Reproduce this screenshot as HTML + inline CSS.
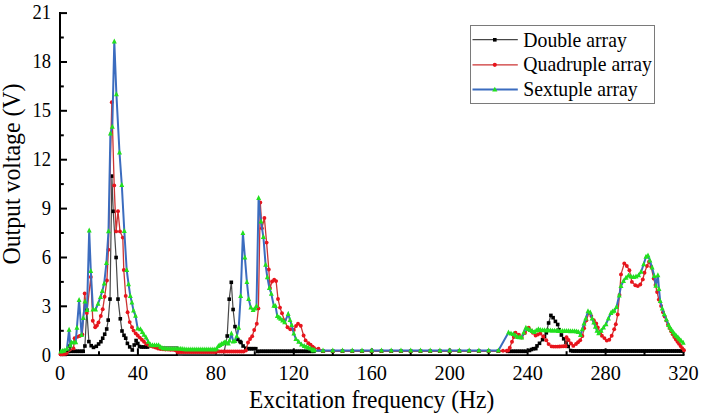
<!DOCTYPE html>
<html><head><meta charset="utf-8"><style>
html,body{margin:0;padding:0;background:#fff;}
svg{display:block;}
text{font-family:"Liberation Serif",serif;fill:#000;}
</style></head><body>
<svg width="701" height="417" viewBox="0 0 701 417">
<rect width="701" height="417" fill="#fff"/>
<g stroke="#000" stroke-width="2" fill="none">
<line x1="60" y1="12" x2="60" y2="356"/>
<line x1="59" y1="355.2" x2="684.5" y2="355.2" stroke-width="1.7"/>
<line x1="60" y1="355.2" x2="67" y2="355.2"/><line x1="60" y1="306.3" x2="67" y2="306.3"/><line x1="60" y1="257.5" x2="67" y2="257.5"/><line x1="60" y1="208.6" x2="67" y2="208.6"/><line x1="60" y1="159.7" x2="67" y2="159.7"/><line x1="60" y1="110.8" x2="67" y2="110.8"/><line x1="60" y1="62.0" x2="67" y2="62.0"/><line x1="60" y1="13.1" x2="67" y2="13.1"/><line x1="60" y1="330.8" x2="63.8" y2="330.8"/><line x1="60" y1="281.9" x2="63.8" y2="281.9"/><line x1="60" y1="233.0" x2="63.8" y2="233.0"/><line x1="60" y1="184.1" x2="63.8" y2="184.1"/><line x1="60" y1="135.3" x2="63.8" y2="135.3"/><line x1="60" y1="86.4" x2="63.8" y2="86.4"/><line x1="60" y1="37.5" x2="63.8" y2="37.5"/><line x1="60.0" y1="355" x2="60.0" y2="348.3"/><line x1="137.9" y1="355" x2="137.9" y2="348.3"/><line x1="215.9" y1="355" x2="215.9" y2="348.3"/><line x1="293.8" y1="355" x2="293.8" y2="348.3"/><line x1="371.8" y1="355" x2="371.8" y2="348.3"/><line x1="449.7" y1="355" x2="449.7" y2="348.3"/><line x1="527.6" y1="355" x2="527.6" y2="348.3"/><line x1="605.6" y1="355" x2="605.6" y2="348.3"/><line x1="683.5" y1="355" x2="683.5" y2="348.3"/><line x1="99.0" y1="355" x2="99.0" y2="351.2"/><line x1="176.9" y1="355" x2="176.9" y2="351.2"/><line x1="254.8" y1="355" x2="254.8" y2="351.2"/><line x1="332.8" y1="355" x2="332.8" y2="351.2"/><line x1="410.7" y1="355" x2="410.7" y2="351.2"/><line x1="488.7" y1="355" x2="488.7" y2="351.2"/><line x1="566.6" y1="355" x2="566.6" y2="351.2"/><line x1="644.5" y1="355" x2="644.5" y2="351.2"/>
</g>
<g id="black">
<polyline points="60.5,354.5 62.5,354.0 64.5,353.5 66.5,352.5 68.5,351.5 69.9,346.0 71.5,351.3 73.5,351.3 75.5,351.3 77.5,351.3 79.5,351.3 81.5,351.3 83.2,351.3 84.9,346.0 86.8,310.0 88.9,341.6 91.2,345.7 93.5,347.4 96.3,346.3 98.6,344.0 100.9,341.7 102.7,338.2 104.7,334.2 106.7,329.0 108.2,320.1 110.0,299.1 111.9,176.1 113.2,211.3 116.1,257.5 118.0,299.1 120.3,318.8 122.0,331.0 124.0,335.3 125.7,338.2 127.4,343.4 129.7,346.9 132.3,350.0 134.2,345.0 136.1,340.5 137.8,343.5 139.5,346.5 141.5,347.0 143.5,347.0 145.5,347.0 147.5,347.0 149.5,346.9 151.5,346.9 153.5,346.9 155.5,346.9 157.5,346.9 159.5,346.9 161.5,346.9 163.5,346.9 165.5,346.9 167.5,346.9 169.5,346.9 171.5,346.9 173.5,346.9 175.5,346.9 177.5,346.9 178.5,355.2 181.5,355.2 183.5,355.0 185.5,355.0 187.5,355.0 189.5,355.0 191.5,355.0 193.5,355.0 195.5,355.0 197.5,355.0 199.5,355.0 201.5,355.0 203.5,355.0 205.5,355.0 207.5,355.0 209.5,355.0 211.5,355.0 213.5,355.0 215.5,355.0 217.5,355.0 219.5,355.0 221.5,355.0 223.5,355.2 227.2,336.0 229.2,299.2 231.3,282.3 233.1,309.5 235.0,326.6 237.8,339.5 240.0,341.5 241.0,342.5 243.1,346.0 245.8,348.2 247.8,348.7 249.8,348.7 251.8,348.7 253.8,348.7 255.8,348.7 257.8,351.5 259.8,351.3 261.8,351.3 263.8,351.3 265.8,351.3 267.8,351.3 269.8,351.3 271.8,351.3 273.8,351.3 275.8,351.3 277.8,351.3 279.8,351.3 281.8,351.3 283.8,351.3 285.8,351.3 287.8,351.3 289.8,351.3 291.8,351.3 293.8,351.3 295.8,351.3 297.8,351.3 299.8,351.3 301.8,351.3 303.8,351.3 305.8,351.3 307.8,351.3 309.8,351.3 311.8,351.3 313.8,351.3 313.3,351.2 323.0,351.2 332.8,351.2 342.5,351.2 352.3,351.2 362.0,351.2 371.8,351.2 381.5,351.2 391.2,351.2 401.0,351.2 410.7,351.2 420.5,351.2 430.2,351.2 439.9,351.2 449.7,351.2 459.4,351.2 469.2,351.2 478.9,351.2 488.7,351.2 498.4,351.2 507.7,351.3 509.7,351.3 511.7,351.3 513.7,351.3 515.7,351.3 517.7,351.3 519.7,351.3 521.7,351.3 523.7,351.3 525.7,351.3 529.5,350.5 531.5,349.5 533.5,348.7 535.8,348.6 537.0,345.9 539.5,343.3 542.6,339.6 544.5,336.5 546.3,332.8 548.6,323.0 550.9,315.4 553.1,317.7 555.4,321.4 557.7,324.5 559.2,329.7 561.4,335.0 563.7,338.8 566.0,342.6 568.2,346.4 570.7,350.6 572.7,351.0 574.7,351.0 576.7,351.0 578.7,351.0 580.7,351.0 582.7,351.0 584.7,351.0 586.7,351.0 588.7,351.0 590.7,351.0 592.7,351.0 594.7,351.0 596.7,351.0 598.7,351.0 600.7,351.0 602.7,351.0 604.7,351.0 606.7,351.0 608.7,351.0 610.7,351.0 612.7,351.0 614.7,351.0 616.7,351.0 618.7,351.0 620.7,351.0 622.7,351.0 624.7,351.0 626.7,351.0 628.7,351.0 630.7,351.0 632.7,351.0 634.7,351.0 636.7,351.0 638.7,351.0 640.7,351.0 642.7,351.0 644.7,351.0 646.7,351.0 648.7,351.0 650.7,351.0 652.7,351.0 654.7,351.0 656.7,351.0 658.7,351.0 660.7,351.0 662.7,351.0 664.7,351.0 666.7,351.0 668.7,351.0 670.7,351.0 672.7,351.0 674.7,351.0 676.7,351.0 678.7,351.0 680.7,351.0 682.7,351.0" fill="none" stroke="#484848" stroke-width="1.2"/>
<g fill="#000"><rect x="60.7" y="352.2" width="3.6" height="3.6"/><rect x="62.7" y="351.7" width="3.6" height="3.6"/><rect x="64.7" y="350.7" width="3.6" height="3.6"/><rect x="66.7" y="349.7" width="3.6" height="3.6"/><rect x="68.1" y="344.2" width="3.6" height="3.6"/><rect x="69.7" y="349.5" width="3.6" height="3.6"/><rect x="71.7" y="349.5" width="3.6" height="3.6"/><rect x="73.7" y="349.5" width="3.6" height="3.6"/><rect x="75.7" y="349.5" width="3.6" height="3.6"/><rect x="77.7" y="349.5" width="3.6" height="3.6"/><rect x="79.7" y="349.5" width="3.6" height="3.6"/><rect x="81.4" y="349.5" width="3.6" height="3.6"/><rect x="83.1" y="344.2" width="3.6" height="3.6"/><rect x="85.0" y="308.2" width="3.6" height="3.6"/><rect x="87.1" y="339.8" width="3.6" height="3.6"/><rect x="89.4" y="343.9" width="3.6" height="3.6"/><rect x="91.7" y="345.6" width="3.6" height="3.6"/><rect x="94.5" y="344.5" width="3.6" height="3.6"/><rect x="96.8" y="342.2" width="3.6" height="3.6"/><rect x="99.1" y="339.9" width="3.6" height="3.6"/><rect x="100.9" y="336.4" width="3.6" height="3.6"/><rect x="102.9" y="332.4" width="3.6" height="3.6"/><rect x="104.9" y="327.2" width="3.6" height="3.6"/><rect x="106.4" y="318.3" width="3.6" height="3.6"/><rect x="108.2" y="297.3" width="3.6" height="3.6"/><rect x="110.1" y="174.3" width="3.6" height="3.6"/><rect x="111.4" y="209.5" width="3.6" height="3.6"/><rect x="114.3" y="255.7" width="3.6" height="3.6"/><rect x="116.2" y="297.3" width="3.6" height="3.6"/><rect x="118.5" y="317.0" width="3.6" height="3.6"/><rect x="120.2" y="329.2" width="3.6" height="3.6"/><rect x="122.2" y="333.5" width="3.6" height="3.6"/><rect x="123.9" y="336.4" width="3.6" height="3.6"/><rect x="125.6" y="341.6" width="3.6" height="3.6"/><rect x="127.9" y="345.1" width="3.6" height="3.6"/><rect x="130.5" y="348.2" width="3.6" height="3.6"/><rect x="132.4" y="343.2" width="3.6" height="3.6"/><rect x="134.3" y="338.7" width="3.6" height="3.6"/><rect x="136.0" y="341.7" width="3.6" height="3.6"/><rect x="137.7" y="344.7" width="3.6" height="3.6"/><rect x="139.7" y="345.2" width="3.6" height="3.6"/><rect x="141.7" y="345.2" width="3.6" height="3.6"/><rect x="143.7" y="345.2" width="3.6" height="3.6"/><rect x="145.7" y="345.2" width="3.6" height="3.6"/><rect x="225.4" y="334.2" width="3.6" height="3.6"/><rect x="227.4" y="297.4" width="3.6" height="3.6"/><rect x="229.5" y="280.5" width="3.6" height="3.6"/><rect x="231.3" y="307.7" width="3.6" height="3.6"/><rect x="233.2" y="324.8" width="3.6" height="3.6"/><rect x="236.0" y="337.7" width="3.6" height="3.6"/><rect x="238.2" y="339.7" width="3.6" height="3.6"/><rect x="239.2" y="340.7" width="3.6" height="3.6"/><rect x="241.3" y="344.2" width="3.6" height="3.6"/><rect x="244.0" y="346.4" width="3.6" height="3.6"/><rect x="246.0" y="346.9" width="3.6" height="3.6"/><rect x="248.0" y="346.9" width="3.6" height="3.6"/><rect x="250.0" y="346.9" width="3.6" height="3.6"/><rect x="252.0" y="346.9" width="3.6" height="3.6"/><rect x="254.0" y="346.9" width="3.6" height="3.6"/><rect x="256.0" y="349.7" width="3.6" height="3.6"/><rect x="258.0" y="349.5" width="3.6" height="3.6"/><rect x="260.0" y="349.5" width="3.6" height="3.6"/><rect x="262.0" y="349.5" width="3.6" height="3.6"/><rect x="264.0" y="349.5" width="3.6" height="3.6"/><rect x="266.0" y="349.5" width="3.6" height="3.6"/><rect x="268.0" y="349.5" width="3.6" height="3.6"/><rect x="270.0" y="349.5" width="3.6" height="3.6"/><rect x="272.0" y="349.5" width="3.6" height="3.6"/><rect x="274.0" y="349.5" width="3.6" height="3.6"/><rect x="276.0" y="349.5" width="3.6" height="3.6"/><rect x="278.0" y="349.5" width="3.6" height="3.6"/><rect x="280.0" y="349.5" width="3.6" height="3.6"/><rect x="282.0" y="349.5" width="3.6" height="3.6"/><rect x="284.0" y="349.5" width="3.6" height="3.6"/><rect x="286.0" y="349.5" width="3.6" height="3.6"/><rect x="288.0" y="349.5" width="3.6" height="3.6"/><rect x="290.0" y="349.5" width="3.6" height="3.6"/><rect x="292.0" y="349.5" width="3.6" height="3.6"/><rect x="294.0" y="349.5" width="3.6" height="3.6"/><rect x="296.0" y="349.5" width="3.6" height="3.6"/><rect x="298.0" y="349.5" width="3.6" height="3.6"/><rect x="300.0" y="349.5" width="3.6" height="3.6"/><rect x="302.0" y="349.5" width="3.6" height="3.6"/><rect x="304.0" y="349.5" width="3.6" height="3.6"/><rect x="306.0" y="349.5" width="3.6" height="3.6"/><rect x="308.0" y="349.5" width="3.6" height="3.6"/><rect x="310.0" y="349.5" width="3.6" height="3.6"/><rect x="312.0" y="349.5" width="3.6" height="3.6"/><rect x="311.5" y="349.4" width="3.6" height="3.6"/><rect x="321.2" y="349.4" width="3.6" height="3.6"/><rect x="331.0" y="349.4" width="3.6" height="3.6"/><rect x="340.7" y="349.4" width="3.6" height="3.6"/><rect x="350.5" y="349.4" width="3.6" height="3.6"/><rect x="360.2" y="349.4" width="3.6" height="3.6"/><rect x="369.9" y="349.4" width="3.6" height="3.6"/><rect x="379.7" y="349.4" width="3.6" height="3.6"/><rect x="389.4" y="349.4" width="3.6" height="3.6"/><rect x="399.2" y="349.4" width="3.6" height="3.6"/><rect x="408.9" y="349.4" width="3.6" height="3.6"/><rect x="418.7" y="349.4" width="3.6" height="3.6"/><rect x="428.4" y="349.4" width="3.6" height="3.6"/><rect x="438.1" y="349.4" width="3.6" height="3.6"/><rect x="447.9" y="349.4" width="3.6" height="3.6"/><rect x="457.6" y="349.4" width="3.6" height="3.6"/><rect x="467.4" y="349.4" width="3.6" height="3.6"/><rect x="477.1" y="349.4" width="3.6" height="3.6"/><rect x="486.9" y="349.4" width="3.6" height="3.6"/><rect x="496.6" y="349.4" width="3.6" height="3.6"/><rect x="505.9" y="349.5" width="3.6" height="3.6"/><rect x="507.9" y="349.5" width="3.6" height="3.6"/><rect x="509.9" y="349.5" width="3.6" height="3.6"/><rect x="511.9" y="349.5" width="3.6" height="3.6"/><rect x="513.9" y="349.5" width="3.6" height="3.6"/><rect x="515.9" y="349.5" width="3.6" height="3.6"/><rect x="517.9" y="349.5" width="3.6" height="3.6"/><rect x="519.9" y="349.5" width="3.6" height="3.6"/><rect x="521.9" y="349.5" width="3.6" height="3.6"/><rect x="523.9" y="349.5" width="3.6" height="3.6"/><rect x="527.7" y="348.7" width="3.6" height="3.6"/><rect x="529.7" y="347.7" width="3.6" height="3.6"/><rect x="531.7" y="346.9" width="3.6" height="3.6"/><rect x="534.0" y="346.8" width="3.6" height="3.6"/><rect x="535.2" y="344.1" width="3.6" height="3.6"/><rect x="537.7" y="341.5" width="3.6" height="3.6"/><rect x="540.8" y="337.8" width="3.6" height="3.6"/><rect x="542.7" y="334.7" width="3.6" height="3.6"/><rect x="544.5" y="331.0" width="3.6" height="3.6"/><rect x="546.8" y="321.2" width="3.6" height="3.6"/><rect x="549.1" y="313.6" width="3.6" height="3.6"/><rect x="551.3" y="315.9" width="3.6" height="3.6"/><rect x="553.6" y="319.6" width="3.6" height="3.6"/><rect x="555.9" y="322.7" width="3.6" height="3.6"/><rect x="557.4" y="327.9" width="3.6" height="3.6"/><rect x="559.6" y="333.2" width="3.6" height="3.6"/><rect x="561.9" y="337.0" width="3.6" height="3.6"/><rect x="564.2" y="340.8" width="3.6" height="3.6"/><rect x="566.4" y="344.6" width="3.6" height="3.6"/><rect x="568.9" y="348.8" width="3.6" height="3.6"/><rect x="570.9" y="349.2" width="3.6" height="3.6"/><rect x="572.9" y="349.2" width="3.6" height="3.6"/><rect x="574.9" y="349.2" width="3.6" height="3.6"/><rect x="576.9" y="349.2" width="3.6" height="3.6"/><rect x="578.9" y="349.2" width="3.6" height="3.6"/><rect x="580.9" y="349.2" width="3.6" height="3.6"/><rect x="582.9" y="349.2" width="3.6" height="3.6"/><rect x="584.9" y="349.2" width="3.6" height="3.6"/><rect x="586.9" y="349.2" width="3.6" height="3.6"/><rect x="588.9" y="349.2" width="3.6" height="3.6"/><rect x="590.9" y="349.2" width="3.6" height="3.6"/><rect x="592.9" y="349.2" width="3.6" height="3.6"/><rect x="594.9" y="349.2" width="3.6" height="3.6"/><rect x="596.9" y="349.2" width="3.6" height="3.6"/><rect x="598.9" y="349.2" width="3.6" height="3.6"/><rect x="600.9" y="349.2" width="3.6" height="3.6"/><rect x="602.9" y="349.2" width="3.6" height="3.6"/><rect x="604.9" y="349.2" width="3.6" height="3.6"/><rect x="606.9" y="349.2" width="3.6" height="3.6"/><rect x="608.9" y="349.2" width="3.6" height="3.6"/><rect x="610.9" y="349.2" width="3.6" height="3.6"/><rect x="612.9" y="349.2" width="3.6" height="3.6"/><rect x="614.9" y="349.2" width="3.6" height="3.6"/><rect x="616.9" y="349.2" width="3.6" height="3.6"/><rect x="618.9" y="349.2" width="3.6" height="3.6"/><rect x="620.9" y="349.2" width="3.6" height="3.6"/><rect x="622.9" y="349.2" width="3.6" height="3.6"/><rect x="624.9" y="349.2" width="3.6" height="3.6"/><rect x="626.9" y="349.2" width="3.6" height="3.6"/><rect x="628.9" y="349.2" width="3.6" height="3.6"/><rect x="630.9" y="349.2" width="3.6" height="3.6"/><rect x="632.9" y="349.2" width="3.6" height="3.6"/><rect x="634.9" y="349.2" width="3.6" height="3.6"/><rect x="636.9" y="349.2" width="3.6" height="3.6"/><rect x="638.9" y="349.2" width="3.6" height="3.6"/><rect x="640.9" y="349.2" width="3.6" height="3.6"/><rect x="642.9" y="349.2" width="3.6" height="3.6"/><rect x="644.9" y="349.2" width="3.6" height="3.6"/><rect x="646.9" y="349.2" width="3.6" height="3.6"/><rect x="648.9" y="349.2" width="3.6" height="3.6"/><rect x="650.9" y="349.2" width="3.6" height="3.6"/><rect x="652.9" y="349.2" width="3.6" height="3.6"/><rect x="654.9" y="349.2" width="3.6" height="3.6"/><rect x="656.9" y="349.2" width="3.6" height="3.6"/><rect x="658.9" y="349.2" width="3.6" height="3.6"/><rect x="660.9" y="349.2" width="3.6" height="3.6"/><rect x="662.9" y="349.2" width="3.6" height="3.6"/><rect x="664.9" y="349.2" width="3.6" height="3.6"/><rect x="666.9" y="349.2" width="3.6" height="3.6"/><rect x="668.9" y="349.2" width="3.6" height="3.6"/><rect x="670.9" y="349.2" width="3.6" height="3.6"/><rect x="672.9" y="349.2" width="3.6" height="3.6"/><rect x="674.9" y="349.2" width="3.6" height="3.6"/><rect x="676.9" y="349.2" width="3.6" height="3.6"/><rect x="678.9" y="349.2" width="3.6" height="3.6"/><rect x="680.9" y="349.2" width="3.6" height="3.6"/></g>
</g>
<g id="red">
<polyline points="60.5,354.3 62.5,354.2 64.5,354.0 66.3,353.6 73.5,348.4 74.6,338.2 77.1,336.9 79.7,336.0 82.3,334.5 84.7,293.5 86.8,313.0 90.8,277.0 92.8,320.8 95.2,327.3 96.9,325.5 98.5,322.5 100.8,316.0 102.7,309.3 104.6,296.8 106.9,280.5 108.4,249.8 111.8,102.2 114.2,185.4 116.1,231.4 118.0,211.3 120.0,231.4 122.8,237.6 123.8,270.0 125.7,295.9 127.6,312.2 129.7,322.1 132.0,327.3 133.6,330.6 135.7,333.4 137.7,335.5 139.8,337.6 141.9,339.7 144.0,341.8 146.1,343.9 148.9,345.3 151.0,346.0 153.1,346.7 155.5,347.5 158.0,348.5 160.5,349.0 163.0,349.3 165.5,349.5 168.0,349.6 170.5,349.7 173.0,349.8 175.5,350.3 177.5,352.0 179.5,352.0 181.5,352.0 183.5,352.0 185.5,352.0 187.5,352.0 189.5,352.0 191.5,352.0 193.5,352.0 195.5,352.0 197.5,352.0 199.5,352.0 201.5,352.0 203.5,352.0 205.5,352.0 207.5,352.0 209.5,352.0 211.5,352.0 213.5,352.0 215.5,352.0 217.5,351.5 219.5,351.5 221.5,351.5 223.5,351.5 225.5,351.5 227.5,351.5 229.5,351.5 231.5,351.5 233.5,351.5 235.5,351.5 237.5,351.5 239.5,351.5 241.5,351.5 243.5,351.5 245.9,350.5 248.0,342.5 250.1,339.0 252.2,336.2 254.2,330.0 256.8,323.7 258.4,308.4 260.3,202.5 261.9,228.2 264.4,218.0 266.6,242.6 268.8,269.5 270.0,288.1 272.1,281.5 274.2,279.7 276.1,281.1 278.0,299.0 280.0,307.6 282.0,313.2 284.5,320.5 287.5,327.2 290.3,329.2 293.8,329.9 296.0,326.0 298.0,323.7 300.8,325.8 303.6,335.5 305.6,340.4 308.4,343.2 310.5,344.6 312.6,346.7 314.0,348.0 318.5,348.8 323.0,351.0 332.8,351.0 342.5,351.0 352.3,351.0 362.0,351.0 371.8,351.0 381.5,351.0 391.2,351.0 401.0,351.0 410.7,351.0 420.5,351.0 430.2,351.0 439.9,351.0 449.7,351.0 459.4,351.0 469.2,351.0 478.9,351.0 488.7,351.0 498.4,351.0 503.0,350.8 506.8,350.8 508.1,350.4 509.8,347.8 512.0,341.8 513.8,337.0 515.5,332.7 518.9,334.8 521.7,337.6 525.0,333.0 528.7,327.8 530.8,330.5 532.9,332.7 535.6,335.5 537.8,334.5 540.3,333.5 543.3,336.5 546.3,340.3 548.6,344.1 551.6,346.4 553.6,346.6 555.6,346.6 557.6,346.6 559.6,346.5 561.6,346.4 563.6,346.3 565.6,346.3 566.5,337.3 568.5,340.0 571.0,343.5 573.3,345.9 576.0,344.0 578.0,342.2 580.2,340.3 582.4,336.0 584.1,328.3 586.4,320.2 588.9,312.8 591.3,316.1 593.8,320.2 596.2,323.4 597.8,327.5 600.3,332.4 601.9,335.7 604.4,338.1 606.8,340.6 609.3,339.8 611.7,335.7 614.2,329.2 615.8,324.3 617.7,314.5 619.5,295.0 621.0,274.4 624.3,263.4 626.8,266.0 629.4,270.2 631.9,281.9 635.3,285.3 637.8,286.1 640.3,284.5 642.8,279.4 644.5,272.7 647.0,266.0 649.0,261.8 651.2,266.8 653.7,278.6 655.5,285.0 657.1,292.0 658.8,299.6 661.1,305.9 663.0,312.2 664.7,316.5 666.4,320.6 668.0,324.5 669.5,328.0 671.1,331.2 672.7,334.3 674.3,337.0 675.9,339.6 677.5,341.8 679.0,343.8 680.6,346.0 682.2,348.1 684.0,350.2" fill="none" stroke="#cc3333" stroke-width="1.3"/>
<g fill="#e8141c"><circle cx="60.5" cy="354.3" r="1.95"/><circle cx="62.5" cy="354.2" r="1.95"/><circle cx="64.5" cy="354.0" r="1.95"/><circle cx="66.3" cy="353.6" r="1.95"/><circle cx="73.5" cy="348.4" r="1.95"/><circle cx="74.6" cy="338.2" r="1.95"/><circle cx="77.1" cy="336.9" r="1.95"/><circle cx="79.7" cy="336.0" r="1.95"/><circle cx="82.3" cy="334.5" r="1.95"/><circle cx="84.7" cy="293.5" r="1.95"/><circle cx="86.8" cy="313.0" r="1.95"/><circle cx="90.8" cy="277.0" r="1.95"/><circle cx="92.8" cy="320.8" r="1.95"/><circle cx="95.2" cy="327.3" r="1.95"/><circle cx="96.9" cy="325.5" r="1.95"/><circle cx="98.5" cy="322.5" r="1.95"/><circle cx="100.8" cy="316.0" r="1.95"/><circle cx="102.7" cy="309.3" r="1.95"/><circle cx="104.6" cy="296.8" r="1.95"/><circle cx="106.9" cy="280.5" r="1.95"/><circle cx="108.4" cy="249.8" r="1.95"/><circle cx="111.8" cy="102.2" r="1.95"/><circle cx="114.2" cy="185.4" r="1.95"/><circle cx="116.1" cy="231.4" r="1.95"/><circle cx="118.0" cy="211.3" r="1.95"/><circle cx="120.0" cy="231.4" r="1.95"/><circle cx="122.8" cy="237.6" r="1.95"/><circle cx="123.8" cy="270.0" r="1.95"/><circle cx="125.7" cy="295.9" r="1.95"/><circle cx="127.6" cy="312.2" r="1.95"/><circle cx="129.7" cy="322.1" r="1.95"/><circle cx="132.0" cy="327.3" r="1.95"/><circle cx="133.6" cy="330.6" r="1.95"/><circle cx="135.7" cy="333.4" r="1.95"/><circle cx="137.7" cy="335.5" r="1.95"/><circle cx="139.8" cy="337.6" r="1.95"/><circle cx="141.9" cy="339.7" r="1.95"/><circle cx="144.0" cy="341.8" r="1.95"/><circle cx="146.1" cy="343.9" r="1.95"/><circle cx="148.9" cy="345.3" r="1.95"/><circle cx="151.0" cy="346.0" r="1.95"/><circle cx="153.1" cy="346.7" r="1.95"/><circle cx="155.5" cy="347.5" r="1.95"/><circle cx="158.0" cy="348.5" r="1.95"/><circle cx="160.5" cy="349.0" r="1.95"/><circle cx="163.0" cy="349.3" r="1.95"/><circle cx="165.5" cy="349.5" r="1.95"/><circle cx="168.0" cy="349.6" r="1.95"/><circle cx="170.5" cy="349.7" r="1.95"/><circle cx="173.0" cy="349.8" r="1.95"/><circle cx="175.5" cy="350.3" r="1.95"/><circle cx="177.5" cy="352.0" r="1.95"/><circle cx="179.5" cy="352.0" r="1.95"/><circle cx="181.5" cy="352.0" r="1.95"/><circle cx="183.5" cy="352.0" r="1.95"/><circle cx="185.5" cy="352.0" r="1.95"/><circle cx="187.5" cy="352.0" r="1.95"/><circle cx="189.5" cy="352.0" r="1.95"/><circle cx="191.5" cy="352.0" r="1.95"/><circle cx="193.5" cy="352.0" r="1.95"/><circle cx="195.5" cy="352.0" r="1.95"/><circle cx="197.5" cy="352.0" r="1.95"/><circle cx="199.5" cy="352.0" r="1.95"/><circle cx="201.5" cy="352.0" r="1.95"/><circle cx="203.5" cy="352.0" r="1.95"/><circle cx="205.5" cy="352.0" r="1.95"/><circle cx="207.5" cy="352.0" r="1.95"/><circle cx="209.5" cy="352.0" r="1.95"/><circle cx="211.5" cy="352.0" r="1.95"/><circle cx="213.5" cy="352.0" r="1.95"/><circle cx="215.5" cy="352.0" r="1.95"/><circle cx="217.5" cy="351.5" r="1.95"/><circle cx="219.5" cy="351.5" r="1.95"/><circle cx="221.5" cy="351.5" r="1.95"/><circle cx="223.5" cy="351.5" r="1.95"/><circle cx="225.5" cy="351.5" r="1.95"/><circle cx="227.5" cy="351.5" r="1.95"/><circle cx="229.5" cy="351.5" r="1.95"/><circle cx="231.5" cy="351.5" r="1.95"/><circle cx="233.5" cy="351.5" r="1.95"/><circle cx="235.5" cy="351.5" r="1.95"/><circle cx="237.5" cy="351.5" r="1.95"/><circle cx="239.5" cy="351.5" r="1.95"/><circle cx="241.5" cy="351.5" r="1.95"/><circle cx="243.5" cy="351.5" r="1.95"/><circle cx="245.9" cy="350.5" r="1.95"/><circle cx="248.0" cy="342.5" r="1.95"/><circle cx="250.1" cy="339.0" r="1.95"/><circle cx="252.2" cy="336.2" r="1.95"/><circle cx="254.2" cy="330.0" r="1.95"/><circle cx="256.8" cy="323.7" r="1.95"/><circle cx="258.4" cy="308.4" r="1.95"/><circle cx="260.3" cy="202.5" r="1.95"/><circle cx="261.9" cy="228.2" r="1.95"/><circle cx="264.4" cy="218.0" r="1.95"/><circle cx="266.6" cy="242.6" r="1.95"/><circle cx="268.8" cy="269.5" r="1.95"/><circle cx="270.0" cy="288.1" r="1.95"/><circle cx="272.1" cy="281.5" r="1.95"/><circle cx="274.2" cy="279.7" r="1.95"/><circle cx="276.1" cy="281.1" r="1.95"/><circle cx="278.0" cy="299.0" r="1.95"/><circle cx="280.0" cy="307.6" r="1.95"/><circle cx="282.0" cy="313.2" r="1.95"/><circle cx="284.5" cy="320.5" r="1.95"/><circle cx="287.5" cy="327.2" r="1.95"/><circle cx="290.3" cy="329.2" r="1.95"/><circle cx="293.8" cy="329.9" r="1.95"/><circle cx="296.0" cy="326.0" r="1.95"/><circle cx="298.0" cy="323.7" r="1.95"/><circle cx="300.8" cy="325.8" r="1.95"/><circle cx="303.6" cy="335.5" r="1.95"/><circle cx="305.6" cy="340.4" r="1.95"/><circle cx="308.4" cy="343.2" r="1.95"/><circle cx="310.5" cy="344.6" r="1.95"/><circle cx="312.6" cy="346.7" r="1.95"/><circle cx="314.0" cy="348.0" r="1.95"/><circle cx="318.5" cy="348.8" r="1.95"/><circle cx="323.0" cy="351.0" r="1.95"/><circle cx="332.8" cy="351.0" r="1.95"/><circle cx="342.5" cy="351.0" r="1.95"/><circle cx="352.3" cy="351.0" r="1.95"/><circle cx="362.0" cy="351.0" r="1.95"/><circle cx="371.8" cy="351.0" r="1.95"/><circle cx="381.5" cy="351.0" r="1.95"/><circle cx="391.2" cy="351.0" r="1.95"/><circle cx="401.0" cy="351.0" r="1.95"/><circle cx="410.7" cy="351.0" r="1.95"/><circle cx="420.5" cy="351.0" r="1.95"/><circle cx="430.2" cy="351.0" r="1.95"/><circle cx="439.9" cy="351.0" r="1.95"/><circle cx="449.7" cy="351.0" r="1.95"/><circle cx="459.4" cy="351.0" r="1.95"/><circle cx="469.2" cy="351.0" r="1.95"/><circle cx="478.9" cy="351.0" r="1.95"/><circle cx="488.7" cy="351.0" r="1.95"/><circle cx="498.4" cy="351.0" r="1.95"/><circle cx="503.0" cy="350.8" r="1.95"/><circle cx="506.8" cy="350.8" r="1.95"/><circle cx="508.1" cy="350.4" r="1.95"/><circle cx="509.8" cy="347.8" r="1.95"/><circle cx="512.0" cy="341.8" r="1.95"/><circle cx="513.8" cy="337.0" r="1.95"/><circle cx="515.5" cy="332.7" r="1.95"/><circle cx="518.9" cy="334.8" r="1.95"/><circle cx="521.7" cy="337.6" r="1.95"/><circle cx="525.0" cy="333.0" r="1.95"/><circle cx="528.7" cy="327.8" r="1.95"/><circle cx="530.8" cy="330.5" r="1.95"/><circle cx="532.9" cy="332.7" r="1.95"/><circle cx="535.6" cy="335.5" r="1.95"/><circle cx="537.8" cy="334.5" r="1.95"/><circle cx="540.3" cy="333.5" r="1.95"/><circle cx="543.3" cy="336.5" r="1.95"/><circle cx="546.3" cy="340.3" r="1.95"/><circle cx="548.6" cy="344.1" r="1.95"/><circle cx="551.6" cy="346.4" r="1.95"/><circle cx="553.6" cy="346.6" r="1.95"/><circle cx="555.6" cy="346.6" r="1.95"/><circle cx="557.6" cy="346.6" r="1.95"/><circle cx="559.6" cy="346.5" r="1.95"/><circle cx="561.6" cy="346.4" r="1.95"/><circle cx="563.6" cy="346.3" r="1.95"/><circle cx="565.6" cy="346.3" r="1.95"/><circle cx="566.5" cy="337.3" r="1.95"/><circle cx="568.5" cy="340.0" r="1.95"/><circle cx="571.0" cy="343.5" r="1.95"/><circle cx="573.3" cy="345.9" r="1.95"/><circle cx="576.0" cy="344.0" r="1.95"/><circle cx="578.0" cy="342.2" r="1.95"/><circle cx="580.2" cy="340.3" r="1.95"/><circle cx="582.4" cy="336.0" r="1.95"/><circle cx="584.1" cy="328.3" r="1.95"/><circle cx="586.4" cy="320.2" r="1.95"/><circle cx="588.9" cy="312.8" r="1.95"/><circle cx="591.3" cy="316.1" r="1.95"/><circle cx="593.8" cy="320.2" r="1.95"/><circle cx="596.2" cy="323.4" r="1.95"/><circle cx="597.8" cy="327.5" r="1.95"/><circle cx="600.3" cy="332.4" r="1.95"/><circle cx="601.9" cy="335.7" r="1.95"/><circle cx="604.4" cy="338.1" r="1.95"/><circle cx="606.8" cy="340.6" r="1.95"/><circle cx="609.3" cy="339.8" r="1.95"/><circle cx="611.7" cy="335.7" r="1.95"/><circle cx="614.2" cy="329.2" r="1.95"/><circle cx="615.8" cy="324.3" r="1.95"/><circle cx="617.7" cy="314.5" r="1.95"/><circle cx="619.5" cy="295.0" r="1.95"/><circle cx="621.0" cy="274.4" r="1.95"/><circle cx="624.3" cy="263.4" r="1.95"/><circle cx="626.8" cy="266.0" r="1.95"/><circle cx="629.4" cy="270.2" r="1.95"/><circle cx="631.9" cy="281.9" r="1.95"/><circle cx="635.3" cy="285.3" r="1.95"/><circle cx="637.8" cy="286.1" r="1.95"/><circle cx="640.3" cy="284.5" r="1.95"/><circle cx="642.8" cy="279.4" r="1.95"/><circle cx="644.5" cy="272.7" r="1.95"/><circle cx="647.0" cy="266.0" r="1.95"/><circle cx="649.0" cy="261.8" r="1.95"/><circle cx="651.2" cy="266.8" r="1.95"/><circle cx="653.7" cy="278.6" r="1.95"/><circle cx="655.5" cy="285.0" r="1.95"/><circle cx="657.1" cy="292.0" r="1.95"/><circle cx="658.8" cy="299.6" r="1.95"/><circle cx="661.1" cy="305.9" r="1.95"/><circle cx="663.0" cy="312.2" r="1.95"/><circle cx="664.7" cy="316.5" r="1.95"/><circle cx="666.4" cy="320.6" r="1.95"/><circle cx="668.0" cy="324.5" r="1.95"/><circle cx="669.5" cy="328.0" r="1.95"/><circle cx="671.1" cy="331.2" r="1.95"/><circle cx="672.7" cy="334.3" r="1.95"/><circle cx="674.3" cy="337.0" r="1.95"/><circle cx="675.9" cy="339.6" r="1.95"/><circle cx="677.5" cy="341.8" r="1.95"/><circle cx="679.0" cy="343.8" r="1.95"/><circle cx="680.6" cy="346.0" r="1.95"/><circle cx="682.2" cy="348.1" r="1.95"/><circle cx="684.0" cy="350.2" r="1.95"/></g>
</g>
<g id="blue">
<polyline points="60.8,351.6 62.4,351.0 64.2,350.6 66.9,348.8 69.1,329.8 70.3,345.5 71.4,342.6 73.5,342.6 75.7,342.2 76.9,327.8 79.1,300.0 81.6,334.9 83.3,318.0 85.0,301.5 87.0,310.0 89.2,230.5 90.8,270.9 93.0,309.5 95.6,309.5 98.1,303.7 100.5,297.0 102.3,291.0 104.2,283.4 106.4,263.0 108.5,231.2 110.4,133.4 112.3,126.7 114.3,41.5 116.4,94.3 119.5,152.5 121.8,185.0 124.3,231.0 126.7,270.0 128.6,284.3 130.3,296.0 131.9,302.6 133.5,310.5 135.5,315.8 137.7,328.6 140.5,329.2 142.3,332.0 144.0,334.8 146.1,337.6 148.2,341.8 150.3,344.6 152.5,345.3 154.5,345.3 156.6,345.3 158.6,345.3 160.7,347.0 162.8,348.3 164.8,348.6 166.8,348.7 168.8,348.7 170.8,348.7 172.8,348.7 174.8,348.7 176.8,348.7 178.8,348.7 180.8,348.8 182.8,349.0 184.8,349.2 186.8,349.4 188.8,349.6 190.8,349.6 192.8,349.6 194.8,349.6 196.8,349.6 198.8,349.6 200.8,349.6 202.8,349.6 204.8,349.6 206.8,349.6 208.8,349.6 210.8,349.6 212.8,349.6 214.8,349.6 216.8,348.5 218.4,346.0 220.0,344.9 221.6,344.1 223.3,343.3 224.7,342.6 226.1,342.0 228.3,343.5 229.5,340.5 231.4,333.5 233.2,341.5 234.9,341.0 236.8,336.2 238.7,327.8 240.7,296.0 242.9,233.1 244.9,257.4 246.9,282.0 248.7,299.0 250.8,307.5 253.1,310.0 255.0,308.5 256.5,306.0 258.6,198.1 261.0,221.5 263.4,237.0 265.6,264.8 267.3,277.2 269.4,288.0 271.3,293.8 273.8,305.7 275.5,306.0 277.3,316.0 279.0,317.5 280.6,318.8 282.6,320.5 284.7,322.3 288.2,313.9 290.0,320.0 291.7,325.1 293.8,333.4 295.9,339.0 298.7,341.8 301.5,344.6 304.2,346.0 306.3,346.7 308.4,347.4 310.5,348.4 312.6,349.4 314.5,350.0 313.3,350.4 323.0,350.4 332.8,350.4 342.5,350.4 352.3,350.4 362.0,350.4 371.8,350.4 381.5,350.4 391.2,350.4 401.0,350.4 410.7,350.4 420.5,350.4 430.2,350.4 439.9,350.4 449.7,350.4 459.4,350.4 469.2,350.4 478.9,350.4 488.7,350.4 498.4,350.4 508.5,332.5 511.0,333.5 513.4,334.1 515.5,335.5 517.6,336.9 519.7,337.3 521.7,337.6 523.8,332.5 525.9,327.8 528.0,329.0 530.1,329.9 532.2,331.0 534.2,332.0 536.3,330.5 538.4,329.2 540.5,330.0 542.6,330.2 544.6,330.3 546.6,330.4 548.6,330.5 550.6,330.6 552.6,330.7 554.6,330.8 556.6,330.8 558.6,330.9 560.6,330.9 562.6,331.0 564.6,331.0 566.6,331.1 568.6,331.1 570.6,331.2 572.6,331.2 574.6,331.3 576.6,331.4 578.5,332.0 580.5,335.0 582.3,329.2 584.0,323.4 585.8,318.5 588.0,311.2 590.3,312.6 592.1,318.5 593.8,322.6 595.4,326.7 597.0,330.8 598.7,333.2 601.1,330.8 603.5,327.5 606.0,324.3 608.4,318.5 610.9,313.0 612.5,311.5 614.2,310.8 616.5,307.0 619.2,295.5 621.0,286.1 623.5,281.1 626.0,277.7 628.5,275.5 631.0,276.5 633.5,277.0 636.0,276.5 638.6,275.2 641.1,271.8 643.7,264.3 646.0,256.7 648.0,255.6 649.9,260.5 652.1,267.6 654.3,276.0 655.8,285.8 657.9,275.3 659.0,289.0 660.2,301.0 662.2,308.5 664.3,314.3 666.4,319.6 668.5,324.9 670.0,327.5 671.6,330.1 673.2,332.2 674.8,334.3 676.4,336.0 678.0,337.5 679.5,339.2 681.1,340.7 683.2,342.8" fill="none" stroke="#3b6cbf" stroke-width="2.0"/>
<g fill="#22e01e"><path d="M60.8 348.6L63.2 353.6L58.3 353.6ZM62.4 348.0L64.8 353.0L59.9 353.0ZM64.2 347.6L66.7 352.6L61.8 352.6ZM66.9 345.8L69.4 350.8L64.5 350.8ZM69.1 326.8L71.5 331.8L66.6 331.8ZM70.3 342.5L72.8 347.5L67.8 347.5ZM71.4 339.6L73.9 344.6L69.0 344.6ZM73.5 339.6L76.0 344.6L71.0 344.6ZM75.7 339.2L78.2 344.2L73.2 344.2ZM76.9 324.8L79.4 329.8L74.5 329.8ZM79.1 297.0L81.5 302.0L76.6 302.0ZM81.6 331.9L84.0 336.9L79.1 336.9ZM83.3 315.0L85.8 320.0L80.8 320.0ZM85.0 298.5L87.5 303.5L82.5 303.5ZM87.0 307.0L89.5 312.0L84.5 312.0ZM89.2 227.5L91.7 232.5L86.8 232.5ZM90.8 267.9L93.2 272.9L88.3 272.9ZM93.0 306.5L95.5 311.5L90.5 311.5ZM95.6 306.5L98.0 311.5L93.1 311.5ZM98.1 300.7L100.5 305.7L95.6 305.7ZM100.5 294.0L103.0 299.0L98.0 299.0ZM102.3 288.0L104.8 293.0L99.8 293.0ZM104.2 280.4L106.7 285.4L101.8 285.4ZM106.4 260.0L108.9 265.0L104.0 265.0ZM108.5 228.2L111.0 233.2L106.0 233.2ZM110.4 130.4L112.9 135.4L108.0 135.4ZM112.3 123.7L114.8 128.7L109.8 128.7ZM114.3 38.5L116.8 43.5L111.8 43.5ZM116.4 91.3L118.9 96.3L114.0 96.3ZM119.5 149.5L122.0 154.5L117.0 154.5ZM121.8 182.0L124.2 187.0L119.3 187.0ZM124.3 228.0L126.8 233.0L121.8 233.0ZM126.7 267.0L129.2 272.0L124.2 272.0ZM128.6 281.3L131.0 286.3L126.1 286.3ZM130.3 293.0L132.8 298.0L127.9 298.0ZM131.9 299.6L134.3 304.6L129.5 304.6ZM133.5 307.5L135.9 312.5L131.1 312.5ZM135.5 312.8L137.9 317.8L133.1 317.8ZM137.7 325.6L140.1 330.6L135.2 330.6ZM140.5 326.2L142.9 331.2L138.1 331.2ZM142.3 329.0L144.8 334.0L139.9 334.0ZM144.0 331.8L146.4 336.8L141.6 336.8ZM146.1 334.6L148.5 339.6L143.7 339.6ZM148.2 338.8L150.6 343.8L145.8 343.8ZM150.3 341.6L152.8 346.6L147.9 346.6ZM152.5 342.3L154.9 347.3L150.1 347.3ZM154.5 342.3L156.9 347.3L152.1 347.3ZM156.6 342.3L159.0 347.3L154.2 347.3ZM158.6 342.3L161.0 347.3L156.2 347.3ZM160.7 344.0L163.1 349.0L158.2 349.0ZM162.8 345.3L165.2 350.3L160.4 350.3ZM164.8 345.6L167.2 350.6L162.4 350.6ZM166.8 345.7L169.2 350.7L164.4 350.7ZM168.8 345.7L171.2 350.7L166.4 350.7ZM170.8 345.7L173.2 350.7L168.4 350.7ZM172.8 345.7L175.2 350.7L170.4 350.7ZM174.8 345.7L177.2 350.7L172.4 350.7ZM176.8 345.7L179.2 350.7L174.4 350.7ZM178.8 345.7L181.2 350.7L176.4 350.7ZM180.8 345.8L183.2 350.8L178.4 350.8ZM182.8 346.0L185.2 351.0L180.4 351.0ZM184.8 346.2L187.2 351.2L182.4 351.2ZM186.8 346.4L189.2 351.4L184.4 351.4ZM188.8 346.6L191.2 351.6L186.4 351.6ZM190.8 346.6L193.2 351.6L188.4 351.6ZM192.8 346.6L195.2 351.6L190.4 351.6ZM194.8 346.6L197.2 351.6L192.4 351.6ZM196.8 346.6L199.2 351.6L194.4 351.6ZM198.8 346.6L201.2 351.6L196.4 351.6ZM200.8 346.6L203.2 351.6L198.4 351.6ZM202.8 346.6L205.2 351.6L200.4 351.6ZM204.8 346.6L207.2 351.6L202.4 351.6ZM206.8 346.6L209.2 351.6L204.4 351.6ZM208.8 346.6L211.2 351.6L206.4 351.6ZM210.8 346.6L213.2 351.6L208.4 351.6ZM212.8 346.6L215.2 351.6L210.4 351.6ZM214.8 346.6L217.2 351.6L212.4 351.6ZM216.8 345.5L219.2 350.5L214.4 350.5ZM218.4 343.0L220.8 348.0L216.0 348.0ZM220.0 341.9L222.4 346.9L217.6 346.9ZM221.6 341.1L224.0 346.1L219.2 346.1ZM223.3 340.3L225.8 345.3L220.9 345.3ZM224.7 339.6L227.1 344.6L222.2 344.6ZM226.1 339.0L228.5 344.0L223.7 344.0ZM228.3 340.5L230.8 345.5L225.9 345.5ZM229.5 337.5L231.9 342.5L227.1 342.5ZM231.4 330.5L233.8 335.5L229.0 335.5ZM233.2 338.5L235.6 343.5L230.8 343.5ZM234.9 338.0L237.3 343.0L232.5 343.0ZM236.8 333.2L239.2 338.2L234.4 338.2ZM238.7 324.8L241.1 329.8L236.2 329.8ZM240.7 293.0L243.1 298.0L238.2 298.0ZM242.9 230.1L245.3 235.1L240.5 235.1ZM244.9 254.4L247.3 259.4L242.5 259.4ZM246.9 279.0L249.3 284.0L244.5 284.0ZM248.7 296.0L251.1 301.0L246.2 301.0ZM250.8 304.5L253.2 309.5L248.4 309.5ZM253.1 307.0L255.5 312.0L250.7 312.0ZM255.0 305.5L257.4 310.5L252.6 310.5ZM256.5 303.0L258.9 308.0L254.1 308.0ZM258.6 195.1L261.1 200.1L256.2 200.1ZM261.0 218.5L263.4 223.5L258.6 223.5ZM263.4 234.0L265.8 239.0L260.9 239.0ZM265.6 261.8L268.1 266.8L263.2 266.8ZM267.3 274.2L269.8 279.2L264.9 279.2ZM269.4 285.0L271.8 290.0L266.9 290.0ZM271.3 290.8L273.8 295.8L268.9 295.8ZM273.8 302.7L276.2 307.7L271.4 307.7ZM275.5 303.0L277.9 308.0L273.1 308.0ZM277.3 313.0L279.8 318.0L274.9 318.0ZM279.0 314.5L281.4 319.5L276.6 319.5ZM280.6 315.8L283.1 320.8L278.2 320.8ZM282.6 317.5L285.1 322.5L280.2 322.5ZM284.7 319.3L287.1 324.3L282.2 324.3ZM288.2 310.9L290.6 315.9L285.8 315.9ZM290.0 317.0L292.4 322.0L287.6 322.0ZM291.7 322.1L294.1 327.1L289.2 327.1ZM293.8 330.4L296.2 335.4L291.4 335.4ZM295.9 336.0L298.3 341.0L293.4 341.0ZM298.7 338.8L301.1 343.8L296.2 343.8ZM301.5 341.6L303.9 346.6L299.1 346.6ZM304.2 343.0L306.6 348.0L301.8 348.0ZM306.3 343.7L308.8 348.7L303.9 348.7ZM308.4 344.4L310.8 349.4L305.9 349.4ZM310.5 345.4L312.9 350.4L308.1 350.4ZM312.6 346.4L315.1 351.4L310.2 351.4ZM314.5 347.0L316.9 352.0L312.1 352.0ZM313.3 347.4L315.7 352.4L310.8 352.4ZM323.0 347.4L325.5 352.4L320.6 352.4ZM332.8 347.4L335.2 352.4L330.3 352.4ZM342.5 347.4L345.0 352.4L340.1 352.4ZM352.3 347.4L354.7 352.4L349.8 352.4ZM362.0 347.4L364.5 352.4L359.6 352.4ZM371.8 347.4L374.2 352.4L369.3 352.4ZM381.5 347.4L383.9 352.4L379.0 352.4ZM391.2 347.4L393.7 352.4L388.8 352.4ZM401.0 347.4L403.4 352.4L398.5 352.4ZM410.7 347.4L413.2 352.4L408.3 352.4ZM420.5 347.4L422.9 352.4L418.0 352.4ZM430.2 347.4L432.7 352.4L427.8 352.4ZM439.9 347.4L442.4 352.4L437.5 352.4ZM449.7 347.4L452.1 352.4L447.2 352.4ZM459.4 347.4L461.9 352.4L457.0 352.4ZM469.2 347.4L471.6 352.4L466.7 352.4ZM478.9 347.4L481.4 352.4L476.5 352.4ZM488.7 347.4L491.1 352.4L486.2 352.4ZM498.4 347.4L500.8 352.4L495.9 352.4ZM508.5 329.5L510.9 334.5L506.1 334.5ZM511.0 330.5L513.5 335.5L508.6 335.5ZM513.4 331.1L515.9 336.1L510.9 336.1ZM515.5 332.5L518.0 337.5L513.0 337.5ZM517.6 333.9L520.1 338.9L515.1 338.9ZM519.7 334.3L522.2 339.3L517.2 339.3ZM521.7 334.6L524.2 339.6L519.2 339.6ZM523.8 329.5L526.2 334.5L521.3 334.5ZM525.9 324.8L528.4 329.8L523.4 329.8ZM528.0 326.0L530.5 331.0L525.5 331.0ZM530.1 326.9L532.6 331.9L527.6 331.9ZM532.2 328.0L534.7 333.0L529.8 333.0ZM534.2 329.0L536.7 334.0L531.8 334.0ZM536.3 327.5L538.8 332.5L533.8 332.5ZM538.4 326.2L540.9 331.2L535.9 331.2ZM540.5 327.0L543.0 332.0L538.0 332.0ZM542.6 327.2L545.1 332.2L540.1 332.2ZM544.6 327.3L547.1 332.3L542.1 332.3ZM546.6 327.4L549.1 332.4L544.1 332.4ZM548.6 327.5L551.1 332.5L546.1 332.5ZM550.6 327.6L553.1 332.6L548.1 332.6ZM552.6 327.7L555.1 332.7L550.1 332.7ZM554.6 327.8L557.1 332.8L552.1 332.8ZM556.6 327.8L559.1 332.8L554.1 332.8ZM558.6 327.9L561.1 332.9L556.1 332.9ZM560.6 327.9L563.1 332.9L558.1 332.9ZM562.6 328.0L565.1 333.0L560.1 333.0ZM564.6 328.0L567.1 333.0L562.1 333.0ZM566.6 328.1L569.1 333.1L564.1 333.1ZM568.6 328.1L571.1 333.1L566.1 333.1ZM570.6 328.2L573.1 333.2L568.1 333.2ZM572.6 328.2L575.1 333.2L570.1 333.2ZM574.6 328.3L577.1 333.3L572.1 333.3ZM576.6 328.4L579.1 333.4L574.1 333.4ZM578.5 329.0L581.0 334.0L576.0 334.0ZM580.5 332.0L583.0 337.0L578.0 337.0ZM582.3 326.2L584.8 331.2L579.8 331.2ZM584.0 320.4L586.5 325.4L581.5 325.4ZM585.8 315.5L588.2 320.5L583.3 320.5ZM588.0 308.2L590.5 313.2L585.5 313.2ZM590.3 309.6L592.8 314.6L587.8 314.6ZM592.1 315.5L594.6 320.5L589.6 320.5ZM593.8 319.6L596.2 324.6L591.3 324.6ZM595.4 323.7L597.9 328.7L592.9 328.7ZM597.0 327.8L599.5 332.8L594.5 332.8ZM598.7 330.2L601.2 335.2L596.2 335.2ZM601.1 327.8L603.6 332.8L598.6 332.8ZM603.5 324.5L606.0 329.5L601.0 329.5ZM606.0 321.3L608.5 326.3L603.5 326.3ZM608.4 315.5L610.9 320.5L605.9 320.5ZM610.9 310.0L613.4 315.0L608.4 315.0ZM612.5 308.5L615.0 313.5L610.0 313.5ZM614.2 307.8L616.7 312.8L611.8 312.8ZM616.5 304.0L619.0 309.0L614.0 309.0ZM619.2 292.5L621.7 297.5L616.8 297.5ZM621.0 283.1L623.5 288.1L618.5 288.1ZM623.5 278.1L626.0 283.1L621.0 283.1ZM626.0 274.7L628.5 279.7L623.5 279.7ZM628.5 272.5L631.0 277.5L626.0 277.5ZM631.0 273.5L633.5 278.5L628.5 278.5ZM633.5 274.0L636.0 279.0L631.0 279.0ZM636.0 273.5L638.5 278.5L633.5 278.5ZM638.6 272.2L641.1 277.2L636.1 277.2ZM641.1 268.8L643.6 273.8L638.6 273.8ZM643.7 261.3L646.2 266.3L641.2 266.3ZM646.0 253.7L648.5 258.7L643.5 258.7ZM648.0 252.6L650.5 257.6L645.5 257.6ZM649.9 257.5L652.4 262.5L647.4 262.5ZM652.1 264.6L654.6 269.6L649.6 269.6ZM654.3 273.0L656.8 278.0L651.8 278.0ZM655.8 282.8L658.2 287.8L653.3 287.8ZM657.9 272.3L660.4 277.3L655.4 277.3ZM659.0 286.0L661.5 291.0L656.5 291.0ZM660.2 298.0L662.7 303.0L657.8 303.0ZM662.2 305.5L664.7 310.5L659.8 310.5ZM664.3 311.3L666.8 316.3L661.8 316.3ZM666.4 316.6L668.9 321.6L663.9 321.6ZM668.5 321.9L671.0 326.9L666.0 326.9ZM670.0 324.5L672.5 329.5L667.5 329.5ZM671.6 327.1L674.1 332.1L669.1 332.1ZM673.2 329.2L675.7 334.2L670.8 334.2ZM674.8 331.3L677.2 336.3L672.3 336.3ZM676.4 333.0L678.9 338.0L673.9 338.0ZM678.0 334.5L680.5 339.5L675.5 339.5ZM679.5 336.2L682.0 341.2L677.0 341.2ZM681.1 337.7L683.6 342.7L678.6 342.7ZM683.2 339.8L685.7 344.8L680.8 344.8Z"/></g>
</g>

<g font-size="20.6"><text transform="translate(51.0,361.5) scale(0.9,1)" text-anchor="end">0</text><text transform="translate(51.0,312.6) scale(0.9,1)" text-anchor="end">3</text><text transform="translate(51.0,263.8) scale(0.9,1)" text-anchor="end">6</text><text transform="translate(51.0,214.9) scale(0.9,1)" text-anchor="end">9</text><text transform="translate(51.0,166.0) scale(0.9,1)" text-anchor="end">12</text><text transform="translate(51.0,117.1) scale(0.9,1)" text-anchor="end">15</text><text transform="translate(51.0,68.3) scale(0.9,1)" text-anchor="end">18</text><text transform="translate(51.0,19.4) scale(0.9,1)" text-anchor="end">21</text></g>
<g font-size="20.3"><text x="60.0" y="379.5" text-anchor="middle">0</text><text x="137.9" y="379.5" text-anchor="middle">40</text><text x="215.9" y="379.5" text-anchor="middle">80</text><text x="293.8" y="379.5" text-anchor="middle">120</text><text x="371.8" y="379.5" text-anchor="middle">160</text><text x="449.7" y="379.5" text-anchor="middle">200</text><text x="527.6" y="379.5" text-anchor="middle">240</text><text x="605.6" y="379.5" text-anchor="middle">280</text><text x="683.5" y="379.5" text-anchor="middle">320</text></g>
<text transform="translate(249,408.1) scale(1,1.06)" font-size="23.5">Excitation frequency (Hz)</text>
<text transform="translate(19.9,264.5) rotate(-90) scale(1,1.07)" font-size="23.8">Output voltage (V)</text>
<g>
<rect x="470.5" y="25.5" width="184" height="78" fill="#fff" stroke="#7a7a7a" stroke-width="1"/>
<line x1="472.5" y1="39.7" x2="517.8" y2="39.7" stroke="#484848" stroke-width="1.2"/>
<rect x="493" y="38" width="3.6" height="3.6" fill="#000"/>
<line x1="472.5" y1="64.8" x2="517.8" y2="64.8" stroke="#cc3333" stroke-width="1.3"/>
<circle cx="494.8" cy="64.8" r="2.1" fill="#e8141c"/>
<line x1="472.5" y1="89.6" x2="517.8" y2="89.6" stroke="#3b6cbf" stroke-width="2.0"/>
<path d="M494.8 86.7L497.4 91.5L492.2 91.5Z" fill="#22e01e"/>
<g font-size="20.2">
<text transform="translate(523.3,46.5) scale(0.977,1.02)">Double array</text>
<text transform="translate(523.3,71.4) scale(0.977,1.02)">Quadruple array</text>
<text transform="translate(523.3,96.2) scale(0.977,1.02)">Sextuple array</text>
</g>
</g>
</svg>
</body></html>
